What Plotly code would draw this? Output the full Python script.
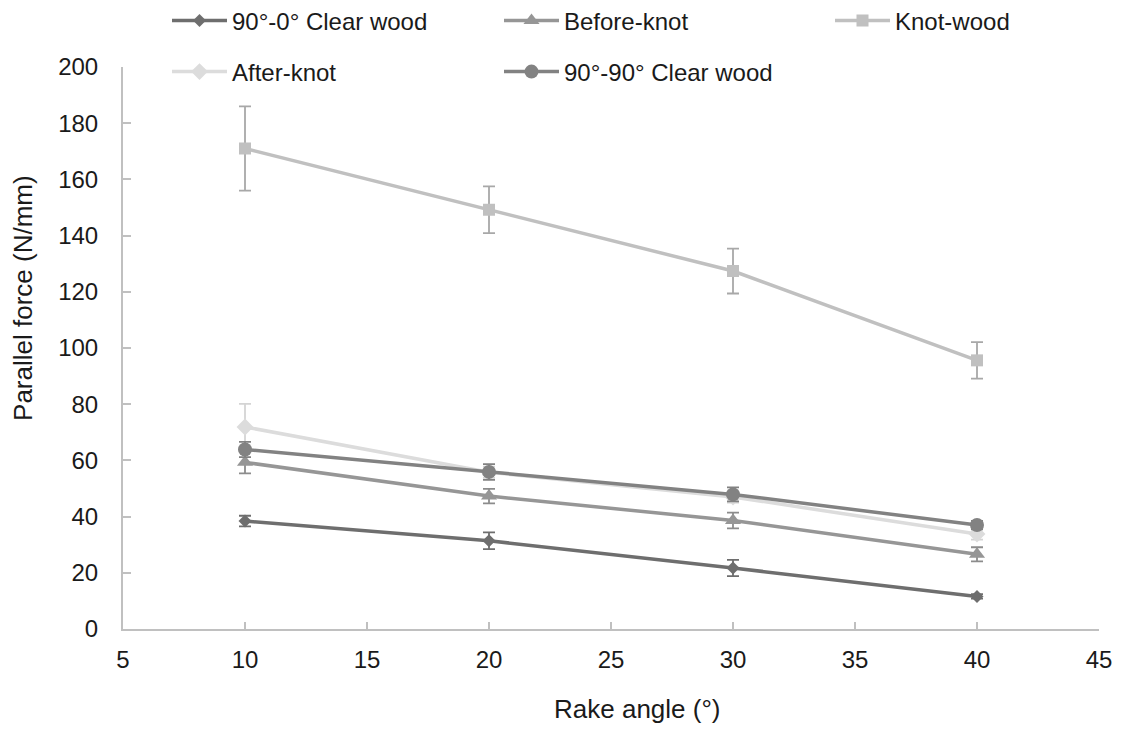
import plotly.graph_objects as go

rake_angle = [10, 20, 30, 40]

clear_0 = [38.4, 31.4, 21.7, 11.6]
clear_0_err = [1.9, 3.0, 2.9, 0.8]

before_knot = [59.3, 47.3, 38.6, 26.6]
before_knot_err = [3.9, 2.6, 2.8, 2.5]

knot_wood = [171.0, 149.2, 127.4, 95.6]
knot_wood_err = [15.0, 8.3, 8.0, 6.5]

after_knot = [71.9, 55.8, 47.0, 33.8]
after_knot_err = [8.2, 2.0, 2.0, 2.0]

clear_90 = [63.9, 55.9, 47.9, 37.0]
clear_90_err = [2.7, 2.8, 2.5, 1.5]

x_title = "Rake angle (°)"
y_title = "Parallel force (N/mm)"

series = [
    ("90°-0° Clear wood", clear_0, clear_0_err, "#6e6e6e", "#6e6e6e", "diamond", 10, "legend", 175, 22),
    ("Before-knot", before_knot, before_knot_err, "#969696", "#8c8c8c", "triangle-up", 14, "legend2", 507, 22),
    ("Knot-wood", knot_wood, knot_wood_err, "#c0c0c0", "#a8a8a8", "square", 12, "legend3", 838, 22),
    ("After-knot", after_knot, after_knot_err, "#dcdcdc", "#d4d4d4", "diamond", 13, "legend4", 175, 73),
    ("90°-90° Clear wood", clear_90, clear_90_err, "#828282", "#828282", "circle", 14, "legend5", 507, 73),
]

FONT = "Liberation Sans, Arial, sans-serif"
W, H = 1111, 716   # page body has an 8px margin

fig = go.Figure()
layout_legends = {}
for name, vals, errs, color, ecolor, sym, size, leg, lx, ly in series:
    fig.add_trace(go.Scatter(
        x=rake_angle, y=vals, name=name, mode="lines+markers",
        line=dict(color=color, width=3.5),
        marker=dict(symbol=sym, size=size, color=color),
        error_y=dict(type="data", array=errs, visible=True, color=ecolor, thickness=1.8, width=6),
        legend=leg,
    ))
    layout_legends[leg] = dict(
        xref="container", yref="container",
        x=(lx - 16) / W, y=1 - (ly - 9) / H, xanchor="left", yanchor="middle",
        bgcolor="rgba(0,0,0,0)", borderwidth=0,
        font=dict(family=FONT, size=24, color="#1a1a1a"),
        itemwidth=55,
    )

fig.update_layout(
    width=W, height=H,
    margin=dict(l=115, r=20, t=59, b=95, autoexpand=False),
    paper_bgcolor="white", plot_bgcolor="white",
    font=dict(family=FONT, size=24, color="#1a1a1a"),
    showlegend=True,
    **layout_legends,
)

fig.add_annotation(
    text=x_title, xref="paper", yref="paper", x=0.5266, y=-0.1423,
    xanchor="center", yanchor="middle", showarrow=False,
    font=dict(family=FONT, size=26, color="#1a1a1a"),
)
fig.add_annotation(
    text=y_title, xref="paper", yref="paper", x=-0.1025, y=0.589,
    xanchor="center", yanchor="middle", showarrow=False, textangle=-90,
    font=dict(family=FONT, size=26, color="#1a1a1a"),
)

fig.update_xaxes(
    range=[5, 45], tickvals=[5, 10, 15, 20, 25, 30, 35, 40, 45],
    showline=True, linecolor="#c0c0c0", linewidth=2,
    ticks="inside", ticklen=7, tickcolor="#c0c0c0", tickwidth=1.5,
    showgrid=False, zeroline=False,
    tickfont=dict(size=24),
    ticklabelstandoff=8,
)
fig.update_yaxes(
    range=[0, 200], tickvals=list(range(0, 201, 20)),
    showline=True, linecolor="#c0c0c0", linewidth=2,
    ticks="inside", ticklen=8, tickcolor="#c0c0c0", tickwidth=1.5,
    showgrid=False, zeroline=False,
    tickfont=dict(size=24),
    ticklabelstandoff=18,
)

fig.write_html("out.html")
